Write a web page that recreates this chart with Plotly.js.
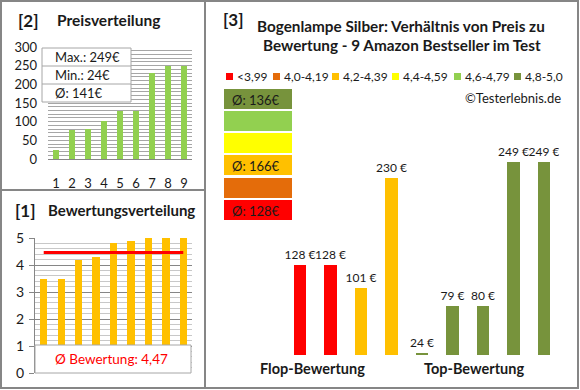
<!DOCTYPE html>
<html><head><meta charset="utf-8">
<script src="https://cdn.plot.ly/plotly-3.0.1.min.js"></script>
<style>html,body{margin:0;padding:0;background:#fff}#c{width:580px;height:390px}</style>
</head><body><div id="c"></div>
<script>
// ---- data ----
const categories = [1,2,3,4,5,6,7,8,9];
const pricesSorted = [24,79,80,101,128,128,230,249,249];
const ratingsSorted = [3.5,3.5,4.2,4.3,4.8,4.9,5.0,5.0,5.0];
const groupPrices = [128,128,101,230,24,79,80,249,249];
const groupRatings = [3.5,3.5,4.2,4.3,4.8,4.9,5.0,5.0,5.0];
const groupLabels = ['Flop-Bewertung','Top-Bewertung'];
const legendLabels = ['<3,99','4,0-4,19','4,2-4,39','4,4-4,59','4,6-4,79','4,8-5,0'];
const legendColors = ['#ff0000','#e46c0a','#ffc000','#ffff00','#92d050','#77933c'];
const binMins = [0,4.0,4.2,4.4,4.6,4.8];

// ---- helpers ----
const W=580,H=390;
const X=p=>p/W, Y=p=>1-p/H;
const FONT='Lato, "Liberation Sans", sans-serif';
const TXT='#1a1a1a';
const binOf = r => { let b=0; binMins.forEach((m,i)=>{ if(r>=m) b=i; }); return b; };
const fmt = v => v.toFixed(2).replace('.',',');
const mean = a => a.reduce((s,v)=>s+v,0)/a.length;

const avgPrice = Math.round(mean(pricesSorted));
const avgRating = mean(ratingsSorted);

const traces = [
  {type:'bar', x:categories, y:pricesSorted, xaxis:'x', yaxis:'y', width:0.42,
   marker:{color:'#92d050'}, hoverinfo:'none'},
  {type:'bar', x:categories, y:ratingsSorted, xaxis:'x2', yaxis:'y2', width:0.42,
   marker:{color:'#ffc000'}, hoverinfo:'none'},
  {type:'scatter', mode:'lines', x:[categories[0], categories[categories.length-1]], y:[avgRating, avgRating],
   xaxis:'x2', yaxis:'y2', line:{color:'#ff0000', width:3}, hoverinfo:'none'},
  {type:'bar', x:categories, y:groupPrices, xaxis:'x3', yaxis:'y3', width:0.4,
   marker:{color:groupRatings.map(r=>legendColors[binOf(r)])},
   texttemplate:'%{y} €', textposition:'outside', constraintext:'none',
   textfont:{family:FONT, size:12, color:TXT}, hoverinfo:'none'}
];

const shapes = [];
const annotations = [];
const ann = (text,x,y,o={}) => annotations.push(Object.assign({text, x:X(x), y:Y(y), xref:'paper', yref:'paper',
  showarrow:false, xanchor:'center', yanchor:'middle', font:{family:FONT, size:13, color:TXT}}, o));

// frame + dividers
shapes.push({type:'rect', xref:'paper', yref:'paper', x0:X(1), x1:X(578), y0:Y(1), y1:Y(388), line:{color:'#868686', width:2}});
shapes.push({type:'line', xref:'paper', yref:'paper', x0:X(205), x1:X(205), y0:Y(1), y1:Y(388), line:{color:'#868686', width:2}});
shapes.push({type:'line', xref:'paper', yref:'paper', x0:X(1), x1:X(205), y0:Y(190), y1:Y(190), line:{color:'#868686', width:2}});

// panel [2]
ann('<b>[2]</b>', 28, 20, {font:{family:FONT, size:17, color:TXT}});
ann('<b>Preisverteilung</b>', 109, 20, {font:{family:FONT, size:15.5, color:TXT}});
shapes.push({type:'rect', xref:'paper', yref:'paper', x0:X(42), x1:X(131), y0:Y(48), y1:Y(102), fillcolor:'#fff', line:{color:'#a6a6a6', width:1}});
shapes.push({type:'line', xref:'paper', yref:'paper', x0:X(42), x1:X(131), y0:Y(66), y1:Y(66), line:{color:'#a6a6a6', width:1}});
shapes.push({type:'line', xref:'paper', yref:'paper', x0:X(42), x1:X(131), y0:Y(84), y1:Y(84), line:{color:'#a6a6a6', width:1}});
ann('Max.: '+Math.max(...pricesSorted)+'€', 53, 57, {xanchor:'left'});
ann('Min.: '+Math.min(...pricesSorted)+'€', 53, 75, {xanchor:'left'});
ann('Ø: '+avgPrice+'€', 53, 93, {xanchor:'left'});

// panel [1]
ann('<b>[1]</b>', 25, 210, {font:{family:FONT, size:17, color:TXT}});
ann('<b>Bewertungsverteilung</b>', 121, 210, {font:{family:FONT, size:15, color:TXT}});
shapes.push({type:'rect', xref:'paper', yref:'paper', x0:X(35), x1:X(191), y0:Y(345), y1:Y(373), fillcolor:'#fff', line:{color:'#a6a6a6', width:1}});
ann('Ø Bewertung: '+fmt(avgRating), 111, 359, {font:{family:FONT, size:13.5, color:'#ff0000'}});

// panel [3]
ann('<b>[3]</b>', 233, 19, {font:{family:FONT, size:17, color:TXT}});
ann('<b>Bogenlampe Silber: Verhältnis von Preis zu</b>', 401, 26, {font:{family:FONT, size:15.3, color:TXT}});
ann('<b>Bewertung - 9 Amazon Bestseller im Test</b>', 402, 45, {font:{family:FONT, size:15.3, color:TXT}});
const legX = [226,273,332,392,454,514];
legendLabels.forEach((l,i)=>{
  shapes.push({type:'rect', xref:'paper', yref:'paper', x0:X(legX[i]), x1:X(legX[i]+7), y0:Y(73), y1:Y(80), fillcolor:legendColors[i], line:{width:0}});
  ann(l, legX[i]+9, 77, {xanchor:'left', font:{family:FONT, size:12, color:TXT}});
});
ann('©Testerlebnis.de', 563, 98, {xanchor:'right'});
// group average boxes (top: best bin)
const boxTops = [89,111,133,155,178,200];
for (let k=0;k<6;k++){
  const bin = 5-k;
  shapes.push({type:'rect', xref:'paper', yref:'paper', x0:X(224), x1:X(292), y0:Y(boxTops[k]), y1:Y(boxTops[k]+20), fillcolor:legendColors[bin], line:{width:0}});
  const vals = groupPrices.filter((p,i)=>binOf(groupRatings[i])===bin);
  if (vals.length) ann('Ø: '+Math.round(mean(vals))+'€', 256, boxTops[k]+10.5);
}
ann('<b>'+groupLabels[0]+'</b>', 312, 368, {font:{family:FONT, size:14.5, color:TXT}});
ann('<b>'+groupLabels[1]+'</b>', 474, 368, {font:{family:FONT, size:14.5, color:TXT}});

const layout = {
  width:W, height:H, margin:{l:0,r:0,t:0,b:0}, paper_bgcolor:'#fff', plot_bgcolor:'rgba(0,0,0,0)',
  showlegend:false, bargap:0,
  font:{family:FONT, size:13, color:TXT},
  xaxis:{domain:[X(48),X(192)], range:[0.5,9.5], anchor:'y', tickvals:categories, ticktext:categories.map(String),
    showgrid:false, zeroline:false, showline:true, linecolor:'#868686', linewidth:1, ticks:'', ticklabelstandoff:12,
    tickfont:{family:FONT,size:13,color:TXT}, fixedrange:true},
  yaxis:{domain:[Y(159),Y(47)], range:[0,300], anchor:'x', dtick:50, showgrid:true, gridcolor:'#a6a6a6', gridwidth:1,
    minor:{dtick:10, showgrid:true, gridcolor:'#a6a6a6', gridwidth:1}, zeroline:false, showline:false, ticks:'',
    ticklabelstandoff:10, tickfont:{family:FONT,size:13,color:TXT}},
  xaxis2:{domain:[X(35),X(192)], range:[0.5,9.5], anchor:'y2', showticklabels:false, showgrid:false, zeroline:false, showline:false, ticks:''},
  yaxis2:{domain:[Y(373),Y(238)], range:[0,5], anchor:'x2', dtick:1, showgrid:true, gridcolor:'#868686', gridwidth:1,
    minor:{dtick:0.2, showgrid:true, gridcolor:'#c8c8c8', gridwidth:1}, zeroline:false, showline:true, linecolor:'#868686',
    ticks:'outside', ticklen:5, tickcolor:'#868686', ticklabelstandoff:2, tickfont:{family:FONT,size:14,color:TXT}},
  xaxis3:{domain:[X(284.75),X(559.25)], range:[0.5,9.5], anchor:'y3', visible:false},
  yaxis3:{domain:[Y(355),Y(130)], range:[21.7, 21.7+(355-130)/0.849], anchor:'x3', visible:false},
  shapes, annotations
};
Plotly.newPlot('c', traces, layout, {staticPlot:true, displayModeBar:false});
</script></body></html>
